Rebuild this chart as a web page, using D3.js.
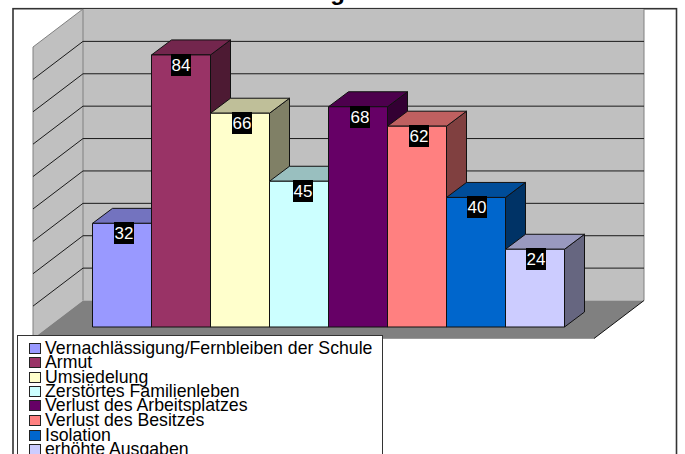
<!DOCTYPE html>
<html><head><meta charset="utf-8">
<script src="https://cdn.jsdelivr.net/npm/d3@7/dist/d3.min.js"></script>
<style>html,body{margin:0;padding:0;background:#fff;overflow:hidden}svg{display:block}text{font-family:"Liberation Sans",Arial,sans-serif}</style>
</head><body><div id="c"></div>
<script>
const categories=["Vernachlässigung/Fernbleiben der Schule","Armut","Umsiedelung","Zerstörtes Familienleben","Verlust des Arbeitsplatzes","Verlust des Besitzes","Isolation","erhöhte Ausgaben"];
const values=[32,84,66,45,68,62,40,24];
const frontColors=["#9999ff","#993366","#ffffcc","#ccffff","#660066","#ff8080","#0066cc","#ccccff"];
const topColors=["#7373bf","#73264d","#bfbf99","#99bfbf","#4d004d","#bf6060","#004d99","#9999bf"];
const sideColors=["#4d4d80","#4d1a33","#808066","#668080","#330033","#804040","#003366","#666680"];
const ticks=d3.range(0,100,10);
const legendRowY=[348,362.5,377,391,405.5,420,435,449];
const labelNudge=[2,0,2,4,1.5,1.5,1,1];
const W=685,H=454;
const svg=d3.select("#c").append("svg").attr("width",W).attr("height",H);
const wall={x0:83,x1:644,y0:300.5,y1:9};
const dep={x:50,y:38};
const barDep={x:20,y:15};
const y=d3.scaleLinear().domain([0,90]).range([wall.y0,wall.y1]);
const yBar=d3.scaleLinear().domain([0,90]).range([327,327-291.5]);
const x=d3.scaleBand().domain(d3.range(values.length)).range([92.5,564.5]).padding(0);
const poly=(pts,fill,stroke,sw)=>svg.append("polygon").attr("points",pts.map(p=>p.join(",")).join(" ")).attr("fill",fill).attr("stroke",stroke||"none").attr("stroke-width",sw||1);
// title (only its lower edge shows above the frame)
svg.append("text").attr("x",337.5).attr("y",0).attr("text-anchor","middle").attr("font-size",24).attr("font-weight","bold").attr("fill","#000").text("g");
// chart frame
svg.append("rect").attr("x",13).attr("y",8.7).attr("width",663.5).attr("height",460).attr("fill","none").attr("stroke","#333").attr("stroke-width",1.6);
// walls
poly([[wall.x0,wall.y1],[wall.x1,wall.y1],[wall.x1,wall.y0],[wall.x0,wall.y0]],"#c0c0c0");
poly([[wall.x0,wall.y1],[wall.x0,wall.y0],[wall.x0-dep.x,wall.y0+dep.y],[wall.x0-dep.x,wall.y1+dep.y]],"#c0c0c0");
poly([[wall.x0,wall.y0],[wall.x1,wall.y0],[wall.x1-dep.x,wall.y0+dep.y],[wall.x0-dep.x,wall.y0+dep.y]],"#808080");
// wall edges
svg.append("path").attr("d",`M${wall.x1},${wall.y1}V${wall.y0}M${wall.x0},${wall.y1}V${wall.y0}M${wall.x0},${wall.y1}L${wall.x0-dep.x},${wall.y1+dep.y}V${wall.y0+dep.y}`).attr("fill","none").attr("stroke","#808080").attr("stroke-width",1);
// gridlines from scale
const grid=ticks.filter(t=>t>0&&t<90);
svg.selectAll(".g").data(grid).enter().append("path").attr("d",t=>`M${wall.x0-dep.x},${y(t)+dep.y}L${wall.x0},${y(t)}H${wall.x1}`).attr("fill","none").attr("stroke","#1a1a1a").attr("stroke-width",1);
svg.append("path").attr("d",`M${wall.x1},${wall.y0}L${wall.x1-dep.x},${wall.y0+dep.y}`).attr("stroke","#111").attr("fill","none");
svg.append("path").attr("d",`M${wall.x0-dep.x},${wall.y0+dep.y}H${wall.x1-dep.x}`).attr("stroke","#999").attr("fill","none");
// bars
const bw=x.bandwidth();
values.forEach((v,i)=>{
 const l=x(i),r=l+bw,t=yBar(v),b=yBar(0);
 const s="#111";
 poly([[r,t],[r+barDep.x,t-barDep.y],[r+barDep.x,b-barDep.y],[r,b]],sideColors[i],s);
 poly([[l,t],[l+barDep.x,t-barDep.y],[r+barDep.x,t-barDep.y],[r,t]],topColors[i],s);
 poly([[l,t],[r,t],[r,b],[l,b]],frontColors[i],s);
});
// labels
values.forEach((v,i)=>{
 const cx=x(i)+bw/2+labelNudge[i], t=Math.round(yBar(v)-1);
 svg.append("rect").attr("x",Math.round(cx-10)).attr("y",t).attr("width",20).attr("height",22).attr("fill","#000");
 svg.append("text").attr("x",Math.round(cx)).attr("y",t+17).attr("text-anchor","middle").attr("font-size",17).attr("fill","#fff").text(v);
});
// legend
svg.append("rect").attr("x",17.5).attr("y",335.5).attr("width",365).attr("height",130).attr("fill","#fff").attr("stroke","#333").attr("stroke-width",1);
categories.forEach((c,i)=>{
 const ly=legendRowY[i];
 svg.append("rect").attr("x",29.5).attr("y",Math.floor(ly-5)+.5).attr("width",11).attr("height",10).attr("fill",frontColors[i]).attr("stroke","#222");
 svg.append("text").attr("x",45).attr("y",ly+5.7).attr("font-size",17.7).attr("fill","#000").text(c);
});
</script></body></html>
